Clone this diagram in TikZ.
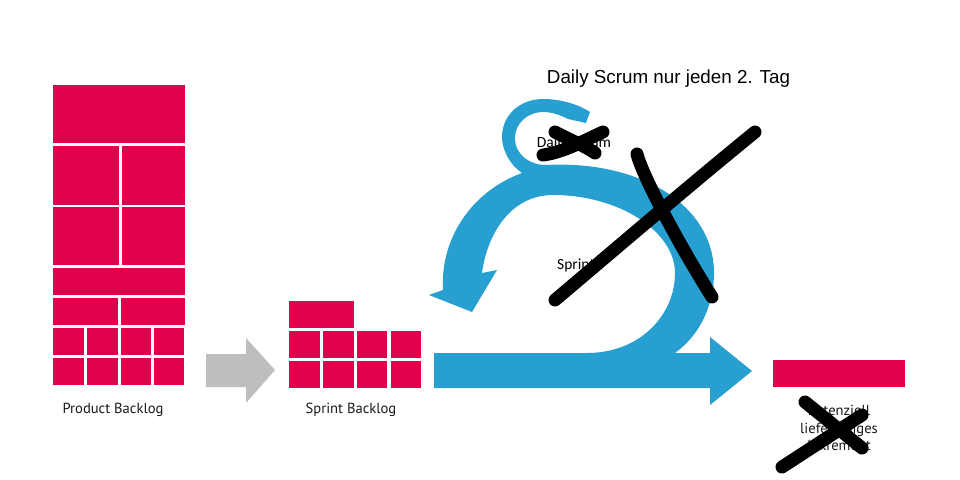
\documentclass[tikz,border=0pt]{standalone}
\usepackage{fontspec}
\setmainfont{PT Sans}
\newfontfamily\arialfont{Liberation Sans}
\newfontfamily\calfont{Carlito}
\definecolor{crim}{HTML}{E0004D}
\definecolor{scrumblue}{HTML}{279FD0}
\definecolor{arrowgray}{HTML}{BEBEBE}
\tikzset{
  item/.style={fill=crim,draw=none},
  strike/.style={draw=black,line cap=round,line join=round,line width=#1},
  strike/.default=13pt,
  lab/.style={inner sep=0pt,text=black!90,font=\fontsize{14.6}{17.5}\selectfont,align=center},
  lab2/.style={inner sep=0pt,text=black,font=\calfont\fontsize{15.5}{18}\selectfont}
}
\newcommand{\itembox}[4]{\fill[item] (#1,#2) rectangle (#3,#4);}
\begin{document}
\begin{tikzpicture}[x=1pt,y=-1pt]
\useasboundingbox (0,0) rectangle (960,479);
% Product backlog
\itembox{53}{85}{185}{143}
\itembox{53}{146}{119}{205}\itembox{122}{146}{185}{205}
\itembox{53}{207}{119}{265}\itembox{122}{207}{185}{265}
\itembox{53}{268}{185}{295}
\itembox{53}{298}{118}{325}\itembox{121}{298}{185}{325}
\foreach \y/\z in {328/355,358/385}{
  \itembox{53}{\y}{84}{\z}\itembox{87}{\y}{118}{\z}\itembox{121}{\y}{151}{\z}\itembox{154}{\y}{184}{\z}
}
% Sprint backlog
\itembox{289}{301}{354}{328}
\foreach \y/\z in {331/358,361/388}{
  \itembox{289}{\y}{320}{\z}\itembox{323}{\y}{354}{\z}\itembox{357}{\y}{387}{\z}\itembox{391}{\y}{421}{\z}
}
% Increment
\itembox{773}{360}{905}{387}
% Gray arrow
\fill[arrowgray] (206,354) -- (246,354) -- (246,338) -- (275,370) -- (246,403) -- (246,387) -- (206,387) -- cycle;
% Scrum arrow
\fill[scrumblue]
  (434,353) -- (587,353)
  .. controls (640,353) and (675,315) .. (675,273)
  .. controls (675,232) and (620,195) .. (553,195)
  .. controls (510,195) and (487,235) .. (482,273)
  -- (497,270) -- (472,312) -- (429,295) -- (443,290)
  .. controls (440,235) and (475,190) .. (522,173)
  .. controls (510,165) and (502,150) .. (502,137)
  .. controls (502,115) and (520,99) .. (543,99)
  .. controls (560,99) and (578,104) .. (590,112)
  -- (586,123) -- (568,119)
  .. controls (560,115) and (552,112) .. (543,112)
  .. controls (528,112) and (515,123) .. (515,138)
  .. controls (515,155) and (530,165) .. (546,165)
  .. controls (640,160) and (714,205) .. (714,273)
  .. controls (714,305) and (700,335) .. (675,353)
  -- (710,353) -- (710,337) -- (752,371) -- (710,405) -- (710,388) -- (434,388) -- cycle;
% Labels
\node[lab] (pb) at (113,410) {Product Backlog};
\node[lab] (sb) at (351,410) {Sprint Backlog};
\node[lab] (inc) at (839,428) {Potenziell\\lieferfähiges\\Inkrement};
\node[lab2] (ds) at (574,143) {Daily Scrum};
\node[lab2,anchor=west] (sp) at (557,265) {Sprint};
\node[inner sep=0pt,font=\arialfont\fontsize{18.8}{20}\selectfont] (title) at (668.5,79) {Daily Scrum nur jeden 2. Tag};
% Strikes
\draw[strike] (555,300) .. controls (620,245) and (690,185) .. (755,132);
\draw[strike] (637,154) .. controls (641,172) and (676,240) .. (712,297);
\draw[strike] (555,132) .. controls (570,140) and (585,146) .. (595,153);
\draw[strike] (543,155) .. controls (565,152) and (585,140) .. (603,132);
\draw[strike] (782,467) -- (862,415);
\draw[strike] (805,402) -- (862,448);
\end{tikzpicture}
\end{document}
